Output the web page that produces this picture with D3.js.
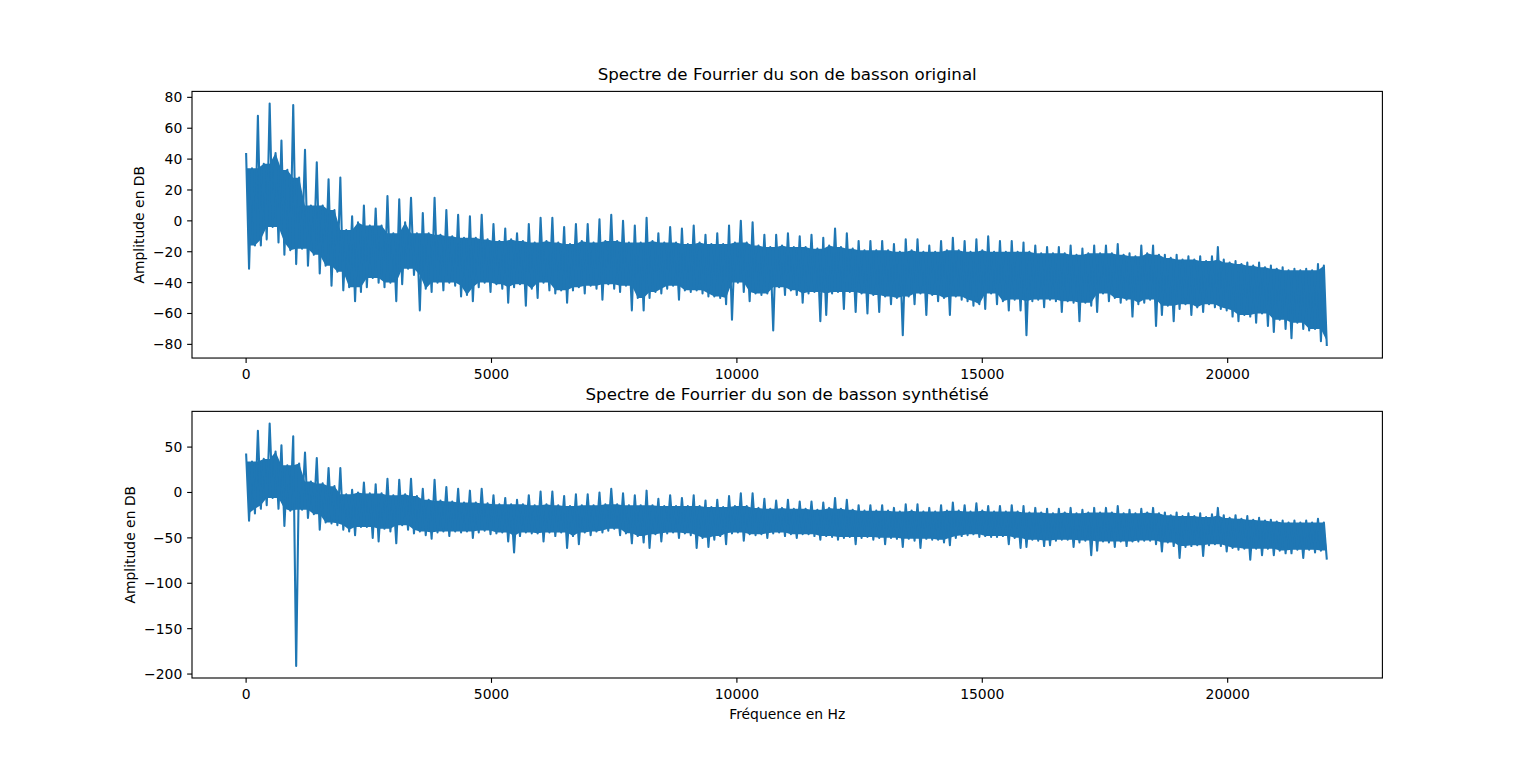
<!DOCTYPE html>
<html>
<head>
<meta charset="utf-8">
<script src="https://cdn.jsdelivr.net/npm/d3@7"></script>
<style>
  html, body { margin: 0; padding: 0; background: #fff; }
  svg { display: block; font-family: "DejaVu Sans", sans-serif; }
</style>
</head>
<body>
<svg id="chart" width="1536" height="762"></svg>
<script>
// ===== Two FFT magnitude spectra (bassoon, original vs synthesised) =====
// The spectra are far too dense to type point by point, so each one is read
// off the picture as a per-bin envelope: the highest value (harmonic peaks
// land on the even bins, one harmonic every 240 Hz) and the lowest value.

const BIN_HZ = 120;          // width of one envelope bin
const FREQ_MAX = 22050;      // Nyquist, last FFT bin

const xTicks = [0, 5000, 10000, 15000, 20000];
const yTicksOriginal = [-80, -60, -40, -20, 0, 20, 40, 60, 80];
const yTicksSynth = [-200, -150, -100, -50, 0, 50];

// ---- original bassoon: bin max / bin min, dB ----
const originalPeak = [
    44, 34, 68, 37, 76, 44, 52, 33, 75, 28,
    46, 10, 38, 10, 27, 7, 28, -6, 3, -1,
    10, -3, 8, -3, 16, -8, 14, -1, 15, -8,
    5, -8, 15, -9, 7, -10, 4, -11, 3, -11,
    4, -12, -2, -13, -5, -12, -8, -13, -2, -14,
    2, -13, 2, -14, -4, -15, -2, -13, -2, -14,
    1, -13, 4, -13, 0, -14, -3, -14, 2, -13,
    -8, -14, -4, -14, -5, -15, -3, -14, -9, -15,
    -8, -15, -3, -14, 0, -14, -1, -16, -9, -17,
    -9, -16, -8, -17, -10, -17, -9, -18, -11, -16,
    -5, -17, -8, -18, -13, -19, -13, -19, -13, -19,
    -15, -20, -12, -19, -12, -20, -16, -20, -13, -19,
    -11, -19, -13, -20, -12, -19, -10, -20, -13, -20,
    -13, -20, -14, -20, -16, -21, -17, -21, -17, -21,
    -16, -22, -18, -21, -16, -21, -16, -21, -15, -22,
    -21, -23, -16, -21, -16, -22, -22, -24, -22, -25,
    -23, -25, -23, -26, -23, -17, -25, -27, -26, -28,
    -27, -29, -27, -30, -29, -31, -30, -32, -31, -32,
    -31, -32, -28, -29
];
const originalFloor = [
    -31, -16, -16, -12, -4, -14, -22, -19, -28, -18,
    -29, -22, -34, -29, -42, -33, -45, -43, -52, -46,
    -43, -37, -40, -43, -40, -52, -41, -31, -35, -58,
    -44, -46, -40, -45, -40, -42, -49, -48, -52, -43,
    -40, -46, -41, -44, -53, -43, -41, -55, -44, -50,
    -40, -45, -47, -45, -53, -45, -43, -47, -42, -44,
    -51, -41, -44, -46, -42, -58, -50, -58, -50, -46,
    -47, -44, -42, -51, -45, -46, -45, -47, -49, -49,
    -50, -54, -64, -40, -46, -52, -47, -48, -47, -71,
    -43, -48, -45, -48, -53, -47, -46, -65, -61, -47,
    -46, -57, -46, -59, -47, -60, -48, -59, -49, -54,
    -50, -74, -49, -54, -47, -61, -48, -52, -50, -61,
    -49, -51, -52, -55, -54, -57, -47, -54, -52, -58,
    -51, -58, -74, -52, -51, -56, -51, -52, -59, -52,
    -53, -65, -53, -55, -59, -47, -52, -50, -53, -51,
    -62, -54, -53, -51, -68, -61, -55, -65, -57, -54,
    -61, -56, -59, -54, -56, -57, -58, -62, -65, -61,
    -62, -66, -60, -68, -72, -64, -70, -76, -66, -70,
    -71, -70, -78, -81
];

// ---- synthesised bassoon: bin max / bin min, dB ----
const synthPeak = [
    43, 34, 68, 37, 76, 45, 52, 30, 62, 32,
    44, 12, 38, 10, 27, 7, 27, -2, 3, 0,
    11, -1, 9, -1, 15, -3, 14, -2, 15, -4,
    4, -8, 14, -9, 6, -10, 4, -11, 2, -11,
    4, -12, -3, -13, -6, -13, -8, -13, -3, -14,
    1, -13, 1, -14, -4, -15, -2, -14, -2, -14,
    0, -13, 4, -13, -1, -14, -3, -14, 2, -14,
    -7, -15, -3, -15, -6, -15, -3, -15, -9, -16,
    -8, -16, -4, -15, -1, -15, -1, -17, -7, -18,
    -9, -17, -8, -18, -10, -18, -10, -19, -11, -17,
    -6, -18, -8, -19, -14, -20, -14, -20, -14, -20,
    -17, -21, -13, -20, -13, -21, -17, -21, -14, -20,
    -11, -20, -14, -21, -12, -20, -15, -21, -15, -21,
    -14, -21, -15, -22, -17, -22, -18, -23, -18, -22,
    -17, -23, -19, -22, -17, -22, -17, -22, -15, -23,
    -19, -23, -18, -22, -17, -23, -22, -25, -22, -26,
    -23, -26, -23, -27, -24, -17, -25, -28, -25, -29,
    -26, -30, -28, -31, -30, -32, -31, -33, -31, -33,
    -31, -33, -29, -33
];
const synthFloor = [
    -31, -23, -18, -14, -6, -18, -37, -20, -191, -19,
    -28, -24, -41, -33, -34, -36, -41, -43, -47, -38,
    -38, -50, -54, -40, -43, -56, -36, -41, -45, -43,
    -47, -51, -44, -43, -48, -43, -44, -43, -50, -44,
    -42, -46, -45, -44, -54, -66, -48, -44, -45, -45,
    -54, -44, -48, -44, -61, -48, -57, -44, -47, -43,
    -44, -42, -40, -47, -45, -56, -48, -55, -61, -46,
    -54, -45, -44, -50, -45, -47, -61, -50, -60, -52,
    -48, -57, -45, -44, -53, -46, -47, -46, -50, -45,
    -44, -48, -46, -50, -46, -46, -48, -52, -48, -49,
    -52, -50, -49, -57, -50, -49, -52, -50, -57, -50,
    -51, -60, -51, -53, -61, -51, -52, -52, -55, -58,
    -50, -48, -47, -46, -49, -48, -49, -49, -48, -57,
    -50, -61, -60, -52, -53, -59, -58, -53, -52, -52,
    -60, -55, -53, -69, -64, -54, -55, -60, -54, -59,
    -54, -54, -53, -53, -57, -65, -55, -59, -72, -60,
    -59, -58, -70, -58, -57, -59, -65, -61, -63, -62,
    -74, -62, -69, -62, -69, -64, -67, -67, -63, -72,
    -63, -66, -64, -74
];

// ---- figure geometry (matplotlib default 2x1 subplots) ----
const AX_LEFT = 192, AX_RIGHT = 1382.4;
const FIG_TOP = 91.4, FIG_BOTTOM = 678;
const AX_H = (FIG_BOTTOM - FIG_TOP) / 2.2;
const LINE_COLOR = '#1f77b4';
const TICK_LEN = 4.86, TICK_PAD = 4.86;

const svg = d3.select('#chart');

function padDomain(lo, hi) {
    const m = (hi - lo) * 0.05;
    return [lo - m, hi + m];
}

function drawPanel(opts) {
    const top = opts.top, bottom = top + AX_H;
    const peak = opts.peak, floor = opts.floor;

    const x = d3.scaleLinear().domain(padDomain(0, FREQ_MAX)).range([AX_LEFT, AX_RIGHT]);
    const y = d3.scaleLinear().domain(padDomain(d3.min(floor), d3.max(peak))).range([bottom, top]);

    const g = svg.append('g');

    // Solid core of the noisy band: for each bin the least extreme of its
    // neighbours, so isolated spikes are left to the zig-zag line below.
    const core = peak.map(function (v, i) {
        const a = Math.max(0, i - 1), b = i + 2;
        return {
            f: i * BIN_HZ,
            hi: d3.min(peak.slice(a, b)),
            lo: d3.max(floor.slice(a, b))
        };
    });
    g.append('path')
        .datum(core)
        .attr('fill', LINE_COLOR)
        .attr('d', d3.area()
            .x1(function (d) { return x(d.f); })
            .y1(function (d) { return y(d.hi); })
            .x0(function (d) { return x(d.f + BIN_HZ / 2); })
            .y0(function (d) { return y(d.lo); }));

    // Zig-zag through max then min of every bin.
    const pts = [];
    peak.forEach(function (v, i) {
        pts.push([i * BIN_HZ, v]);
        pts.push([i * BIN_HZ + BIN_HZ / 2, floor[i]]);
    });
    g.append('path')
        .datum(pts)
        .attr('fill', 'none')
        .attr('stroke', LINE_COLOR)
        .attr('stroke-width', 2.08)
        .attr('stroke-linejoin', 'round')
        .attr('d', d3.line()
            .x(function (d) { return x(d[0]); })
            .y(function (d) { return y(d[1]); }));

    // ---- axes frame ----
    g.append('rect')
        .attr('x', AX_LEFT).attr('y', top)
        .attr('width', AX_RIGHT - AX_LEFT).attr('height', AX_H)
        .attr('fill', 'none').attr('stroke', '#000').attr('stroke-width', 1.11);

    // ---- x ticks ----
    const xt = g.append('g');
    xTicks.forEach(function (t) {
        xt.append('line')
            .attr('x1', x(t)).attr('x2', x(t))
            .attr('y1', bottom).attr('y2', bottom + TICK_LEN)
            .attr('stroke', '#000').attr('stroke-width', 1.11);
        xt.append('text')
            .attr('x', x(t)).attr('y', bottom + 21.2)
            .attr('text-anchor', 'middle')
            .attr('font-size', 13.9)
            .text(String(t));
    });

    // ---- y ticks ----
    const yt = g.append('g');
    opts.yTicks.forEach(function (t) {
        yt.append('line')
            .attr('x1', AX_LEFT - TICK_LEN).attr('x2', AX_LEFT)
            .attr('y1', y(t)).attr('y2', y(t))
            .attr('stroke', '#000').attr('stroke-width', 1.11);
        yt.append('text')
            .attr('class', 'ytl')
            .attr('x', AX_LEFT - TICK_LEN - TICK_PAD).attr('y', y(t))
            .attr('dy', '0.36em')
            .attr('text-anchor', 'end')
            .attr('font-size', 13.9)
            .text(t < 0 ? '\u2212' + Math.abs(t) : String(t));
    });

    // ylabel sits just left of the widest tick label
    let tickLeft = AX_LEFT;
    yt.selectAll('text.ytl').each(function () {
        tickLeft = Math.min(tickLeft, this.getBBox().x);
    });
    const lx = tickLeft - 9, ly = (top + bottom) / 2;
    g.append('text')
        .attr('transform', 'translate(' + lx + ',' + ly + ') rotate(-90)')
        .attr('text-anchor', 'middle')
        .attr('font-size', 13.9)
        .text('Amplitude en DB');

    // ---- title ----
    g.append('text')
        .attr('x', (AX_LEFT + AX_RIGHT) / 2).attr('y', top - 11.5)
        .attr('text-anchor', 'middle')
        .attr('font-size', 16.67)
        .text(opts.title);

    if (opts.xLabel) {
        g.append('text')
            .attr('x', (AX_LEFT + AX_RIGHT) / 2).attr('y', bottom + 41)
            .attr('text-anchor', 'middle')
            .attr('font-size', 13.9)
            .text(opts.xLabel);
    }
}

drawPanel({
    top: FIG_TOP,
    peak: originalPeak, floor: originalFloor,
    yTicks: yTicksOriginal,
    title: 'Spectre de Fourrier du son de basson original'
});
drawPanel({
    top: FIG_TOP + AX_H * 1.2,
    peak: synthPeak, floor: synthFloor,
    yTicks: yTicksSynth,
    title: 'Spectre de Fourrier du son de basson synthétisé',
    xLabel: 'Fréquence en Hz'
});
</script>
</body>
</html>
